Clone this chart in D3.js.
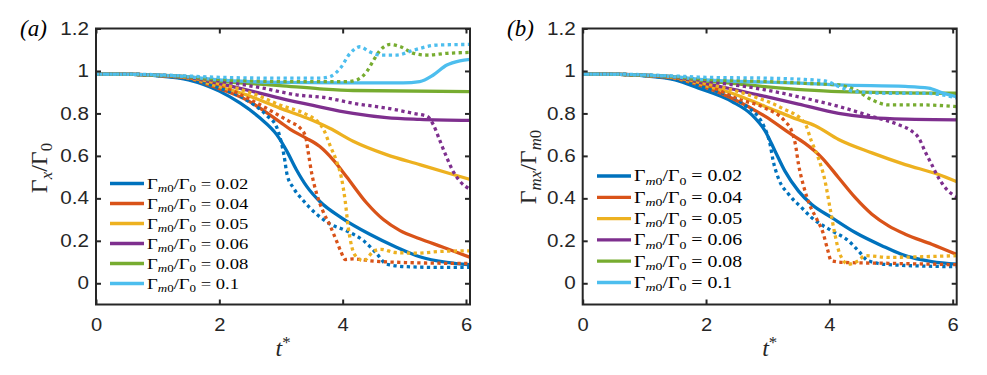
<!DOCTYPE html>
<html><head><meta charset="utf-8">
<script src="https://cdn.jsdelivr.net/npm/d3@7"></script>
<style>body{margin:0;background:#fff}</style>
</head><body>
<svg id="chart" width="987" height="375"></svg>
<script>
// ---------- data ----------
const xTicks = [0, 2, 4, 6];
const yTicks = [0, 0.2, 0.4, 0.6, 0.8, 1, 1.2];
const yTickLabels = ["0", "0.2", "0.4", "0.6", "0.8", "1", "1.2"];
const ratios = ["0.02", "0.04", "0.05", "0.06", "0.08", "0.1"];
const colors = ["#0072BD", "#D95319", "#EDB120", "#7E2F8E", "#77AC30", "#4DBEEE"];

// panel (a): [t*, Γx/Γ0]
const aSolid002 = [[0,0.985],[0.6,0.984],[1,0.977],[1.5,0.958],[2,0.905],[2.34,0.848],[2.66,0.778],[2.93,0.70],[3.09,0.625],[3.25,0.535],[3.42,0.455],[3.63,0.385],[4.0,0.305],[4.44,0.231],[4.88,0.169],[5.25,0.125],[5.69,0.098],[6.07,0.087]];
const aSolid004 = [[0,0.985],[0.6,0.984],[1,0.979],[1.5,0.965],[1.9,0.927],[2.44,0.864],[2.98,0.76],[3.15,0.725],[3.4,0.685],[3.63,0.644],[3.85,0.58],[4.06,0.503],[4.39,0.378],[4.66,0.3],[4.93,0.248],[5.25,0.21],[5.63,0.17],[6.07,0.122]];
const aSolid005 = [[0,0.985],[0.6,0.984],[1,0.979],[1.5,0.968],[1.9,0.934],[2.44,0.8875],[2.98,0.825],[3.42,0.778],[3.79,0.73],[4.17,0.669],[4.71,0.606],[5.25,0.559],[5.79,0.5125],[6.07,0.489]];
const aSolid006 = [[0,0.985],[0.6,0.984],[1,0.98],[1.5,0.97],[2,0.94],[2.44,0.911],[2.98,0.872],[3.52,0.8375],[4.17,0.8],[4.71,0.78],[5.25,0.772],[6.07,0.767]];
const aSolid008 = [[0,0.985],[0.6,0.984],[1,0.98],[1.5,0.972],[2,0.952],[2.44,0.942],[2.98,0.931],[3.63,0.916],[4.17,0.908],[6.07,0.903]];
const aSolid010 = [[0,0.985],[0.6,0.984],[1,0.98],[1.5,0.972],[2,0.958],[2.5,0.95],[3,0.946],[4,0.944],[4.98,0.944],[5.25,0.95],[5.47,0.981],[5.69,1.028],[5.9,1.048],[6.07,1.055]];
const aDot002 = [[0,0.985],[0.6,0.984],[1,0.978],[1.5,0.962],[2,0.92],[2.4,0.87],[2.77,0.79],[2.93,0.735],[3.0,0.67],[3.05,0.6],[3.1,0.51],[3.2,0.45],[3.36,0.39],[3.58,0.325],[3.79,0.28],[4.06,0.247],[4.34,0.2],[4.55,0.14],[4.71,0.09],[5.04,0.078],[5.5,0.075],[6.07,0.075]];
const aDot004 = [[0,0.985],[0.6,0.984],[1,0.979],[1.5,0.967],[2,0.935],[2.4,0.88],[2.71,0.833],[3.0,0.785],[3.15,0.76],[3.31,0.731],[3.4,0.69],[3.44,0.62],[3.5,0.515],[3.58,0.42],[3.68,0.34],[3.79,0.275],[3.9,0.2],[3.97,0.15],[4.04,0.112],[4.17,0.115],[4.44,0.106],[4.98,0.098],[6.07,0.093]];
const aDot005 = [[0,0.985],[0.6,0.984],[1,0.979],[1.5,0.97],[2,0.94],[2.6,0.8875],[2.98,0.84],[3.42,0.794],[3.6,0.76],[3.69,0.725],[3.79,0.653],[3.9,0.575],[3.98,0.497],[4.04,0.39],[4.09,0.265],[4.15,0.17],[4.23,0.122],[4.34,0.106],[4.5,0.15],[4.62,0.16],[4.85,0.145],[5.2,0.142],[5.6,0.15],[6.07,0.153]];
const aDot006 = [[0,0.985],[0.6,0.984],[1,0.98],[1.5,0.972],[2,0.952],[2.71,0.919],[3.25,0.8875],[3.7,0.875],[4.17,0.848],[4.71,0.825],[5.15,0.8],[5.37,0.786],[5.47,0.747],[5.58,0.669],[5.69,0.591],[5.79,0.528],[5.9,0.481],[6.07,0.442]];
const aDot008 = [[0,0.985],[0.6,0.984],[1,0.98],[1.5,0.973],[2,0.96],[2.5,0.953],[3,0.95],[4.06,0.95],[4.23,0.958],[4.39,0.997],[4.5,1.05],[4.61,1.098],[4.77,1.125],[4.94,1.114],[5.15,1.083],[5.37,1.075],[5.69,1.083],[6.07,1.0875]];
const aDot010 = [[0,0.985],[0.6,0.985],[1,0.982],[1.5,0.976],[2,0.97],[3,0.966],[3.63,0.966],[3.79,0.973],[3.96,1.0125],[4.12,1.083],[4.28,1.114],[4.44,1.09],[4.61,1.075],[4.88,1.075],[5.15,1.098],[5.53,1.122],[6.07,1.125]];

// panel (b): [t*, Γmx/Γm0]
const bSolid002 = [[0,0.985],[0.6,0.984],[1,0.977],[1.5,0.958],[1.88,0.919],[2.42,0.856],[2.74,0.794],[2.96,0.716],[3.12,0.622],[3.28,0.528],[3.5,0.434],[3.71,0.372],[4.04,0.309],[4.42,0.239],[4.85,0.177],[5.23,0.13],[5.66,0.102],[6.07,0.09]];
const bSolid004 = [[0,0.985],[0.6,0.984],[1,0.979],[1.5,0.965],[1.88,0.934],[2.42,0.872],[2.96,0.786],[3.39,0.7],[3.6,0.66],[3.88,0.591],[4.15,0.497],[4.42,0.403],[4.69,0.325],[4.96,0.27],[5.23,0.231],[5.66,0.184],[6.07,0.135]];
const bSolid005 = [[0,0.985],[0.6,0.984],[1,0.979],[1.5,0.968],[2,0.93],[2.42,0.895],[2.96,0.833],[3.5,0.77],[3.77,0.742],[4.15,0.677],[4.69,0.614],[5.23,0.559],[5.77,0.5125],[6.07,0.478]];
const bSolid006 = [[0,0.985],[0.6,0.984],[1,0.98],[1.5,0.97],[2,0.94],[2.42,0.915],[2.96,0.88],[3.5,0.844],[4.15,0.8],[4.69,0.78],[5.23,0.773],[6.07,0.77]];
const bSolid008 = [[0,0.985],[0.6,0.984],[1,0.98],[1.5,0.972],[2,0.952],[2.42,0.942],[3,0.925],[3.6,0.911],[4.15,0.903],[6.07,0.895]];
const bSolid010 = [[0,0.985],[0.6,0.984],[1,0.98],[1.5,0.972],[2,0.958],[3,0.947],[3.6,0.942],[4.15,0.934],[5.23,0.927],[5.61,0.919],[5.83,0.897],[6.07,0.878]];
const bDot002 = [[0,0.985],[0.6,0.984],[1,0.978],[1.5,0.962],[2,0.92],[2.6,0.845],[2.94,0.739],[3.04,0.653],[3.09,0.575],[3.17,0.497],[3.34,0.419],[3.55,0.356],[3.71,0.31],[4.04,0.247],[4.31,0.2],[4.47,0.153],[4.63,0.106],[4.96,0.0875],[6.07,0.078]];
const bDot004 = [[0,0.985],[0.6,0.984],[1,0.979],[1.5,0.967],[2,0.935],[2.5,0.87],[2.96,0.825],[3.28,0.7625],[3.39,0.716],[3.45,0.653],[3.5,0.56],[3.58,0.46],[3.68,0.37],[3.8,0.3],[3.9,0.235],[3.97,0.16],[4.03,0.106],[4.25,0.098],[4.96,0.094],[6.07,0.0875]];
const bDot005 = [[0,0.985],[0.6,0.984],[1,0.979],[1.5,0.97],[2,0.94],[2.69,0.8875],[3.23,0.825],[3.6,0.755],[3.71,0.669],[3.82,0.591],[3.93,0.481],[4.01,0.356],[4.09,0.231],[4.17,0.1375],[4.31,0.09],[4.47,0.106],[4.58,0.13],[4.96,0.122],[5.5,0.125],[6.07,0.13]];
const bDot006 = [[0,0.985],[0.6,0.984],[1,0.98],[1.5,0.972],[2,0.952],[2.96,0.911],[3.6,0.872],[4.15,0.833],[4.69,0.786],[5.12,0.747],[5.34,0.716],[5.45,0.684],[5.55,0.622],[5.66,0.559],[5.77,0.497],[5.88,0.45],[6.07,0.405]];
const bDot008 = [[0,0.985],[0.6,0.984],[1,0.98],[1.5,0.973],[2,0.96],[3,0.95],[3.6,0.942],[4.15,0.934],[4.42,0.911],[4.69,0.864],[4.96,0.84],[5.5,0.84],[6.07,0.832]];
const bDot010 = [[0,0.985],[0.6,0.985],[1,0.982],[1.5,0.976],[2,0.97],[3,0.966],[3.6,0.96],[3.93,0.953],[4.15,0.927],[4.42,0.903],[4.96,0.895],[5.5,0.895],[5.77,0.89],[6.07,0.872]];

const aSolids = [aSolid002, aSolid004, aSolid005, aSolid006, aSolid008, aSolid010];
const aDots   = [aDot002, aDot004, aDot005, aDot006, aDot008, aDot010];
const bSolids = [bSolid002, bSolid004, bSolid005, bSolid006, bSolid008, bSolid010];
const bDots   = [bDot002, bDot004, bDot005, bDot006, bDot008, bDot010];

// ---------- drawing ----------
const svg = d3.select("#chart");
const axisColor = "#262626";
const plotTop = 28.5, plotBottom = 304.5;
const serif = "'Liberation Serif', 'Times New Roman', serif";
const sans = "'Liberation Sans', Arial, Helvetica, sans-serif";

function richText(sel, parts, baseSize) {
  parts.forEach(p => {
    const t = sel.append("tspan").text(p.s);
    if (p.it) t.attr("font-style", "italic");
    if (p.sub || p.sup) t.attr("font-size", baseSize * 0.7);
    if (p.dy) t.attr("dy", p.dy);
  });
}

function stretch(textSel, k) {
  textSel.each(function () {
    const w = this.getComputedTextLength();
    d3.select(this).attr("textLength", w * k).attr("lengthAdjust", "spacingAndGlyphs");
  });
}

function panel(cfg) {
  const x = d3.scaleLinear().domain([0, 6.065]).range([cfg.left, cfg.right]);
  const y = d3.scaleLinear().domain([-0.1, 1.2]).range([plotBottom, plotTop]);
  const g = svg.append("g");
  const clipId = "clip" + cfg.id;
  svg.append("clipPath").attr("id", clipId).append("rect")
    .attr("x", cfg.left).attr("y", plotTop).attr("width", cfg.right - cfg.left).attr("height", plotBottom - plotTop);

  const line = d3.line().x(d => x(d[0])).y(d => y(d[1])).curve(d3.curveMonotoneX);
  const lines = g.append("g").attr("clip-path", `url(#${clipId})`);
  cfg.solids.forEach((s, i) => {
    lines.append("path").datum(s).attr("d", line).attr("fill", "none")
      .attr("stroke", colors[i]).attr("stroke-width", 3.3);
  });
  cfg.dots.forEach((s, i) => {
    lines.append("path").datum(s).attr("d", line).attr("fill", "none")
      .attr("stroke", colors[i]).attr("stroke-width", 3.3).attr("stroke-dasharray", "3.3,3.4");
  });

  const axB = g.append("g").attr("transform", `translate(0,${plotBottom})`)
    .call(d3.axisBottom(x).tickValues(xTicks).tickSize(-5).tickPadding(14).tickFormat(d3.format("d")));
  const axT = g.append("g").attr("transform", `translate(0,${plotTop})`)
    .call(d3.axisTop(x).tickValues(xTicks).tickSize(-5).tickFormat(""));
  const axL = g.append("g").attr("transform", `translate(${cfg.left},0)`)
    .call(d3.axisLeft(y).tickValues(yTicks).tickSize(-5).tickPadding(7).tickFormat((d, i) => yTickLabels[i]));
  const axR = g.append("g").attr("transform", `translate(${cfg.right},0)`)
    .call(d3.axisRight(y).tickValues(yTicks).tickSize(-5).tickFormat(""));
  [axB, axT, axL, axR].forEach(a => {
    a.select(".domain").remove();
    a.selectAll(".tick line").attr("stroke", axisColor).attr("stroke-width", 2);
    a.selectAll(".tick text").attr("fill", axisColor).attr("font-size", 17.5).attr("font-family", sans);
  });
  stretch(axB.selectAll(".tick text"), 1.15);
  stretch(axL.selectAll(".tick text"), 1.18);
  g.append("rect").attr("x", cfg.left).attr("y", plotTop).attr("width", cfg.right - cfg.left)
    .attr("height", plotBottom - plotTop).attr("fill", "none").attr("stroke", axisColor).attr("stroke-width", 2);

  const yl = g.append("text").attr("transform", `translate(${cfg.ylabX},${cfg.ylabY}) rotate(-90)`)
    .attr("text-anchor", "middle").attr("font-family", serif).attr("font-size", 24).attr("fill", axisColor);
  richText(yl, cfg.ylabParts, 24);
  const xl = g.append("text").attr("x", (cfg.left + cfg.right) / 2).attr("y", 356)
    .attr("text-anchor", "middle").attr("font-family", serif).attr("font-size", 24).attr("fill", axisColor);
  richText(xl, [{s: "t", it: true}, {s: "*", sup: true, dy: "-0.45em"}], 24);
  g.append("text").attr("x", cfg.tagX).attr("y", 36).attr("font-family", serif)
    .attr("font-style", "italic").attr("font-size", 23).attr("fill", "#000").text(cfg.tag);

  const lg = g.append("g");
  ratios.forEach((r, i) => {
    const yy = cfg.legY + i * cfg.legDy;
    lg.append("line").attr("x1", cfg.legX).attr("x2", cfg.legX + 34).attr("y1", yy).attr("y2", yy)
      .attr("stroke", colors[i]).attr("stroke-width", 3.3);
    const t = lg.append("g").attr("transform", `translate(${cfg.legX + 37},${yy + 5.3}) scale(1.24,1)`)
      .append("text").attr("x", 0).attr("y", 0)
      .attr("font-family", serif).attr("font-size", cfg.legFont).attr("fill", "#000");
    richText(t, [
      {s: "Γ"}, {s: "m", it: true, sub: true, dy: "0.3em"}, {s: "0", sub: true},
      {s: "/Γ", dy: "-0.21em"}, {s: "0", sub: true, dy: "0.3em"}, {s: " = " + r, dy: "-0.21em"}
    ], cfg.legFont);
  });
}

panel({
  id: "a", left: 96, right: 470, solids: aSolids, dots: aDots,
  ylabX: 47, ylabY: 168, tag: "(a)", tagX: 20,
  ylabParts: [{s: "Γ"}, {s: "x", it: true, sub: true, dy: "0.3em"}, {s: "/Γ", dy: "-0.21em"}, {s: "0", sub: true, dy: "0.3em"}],
  legX: 110, legY: 183.5, legDy: 20, legFont: 15
});
panel({
  id: "b", left: 582.7, right: 956.7, solids: bSolids, dots: bDots,
  ylabX: 536, ylabY: 167, tag: "(b)", tagX: 507,
  ylabParts: [{s: "Γ"}, {s: "mx", it: true, sub: true, dy: "0.3em"}, {s: "/Γ", dy: "-0.21em"}, {s: "m", it: true, sub: true, dy: "0.3em"}, {s: "0", sub: true}],
  legX: 597, legY: 176, legDy: 21.3, legFont: 16
});
</script>
</body></html>
